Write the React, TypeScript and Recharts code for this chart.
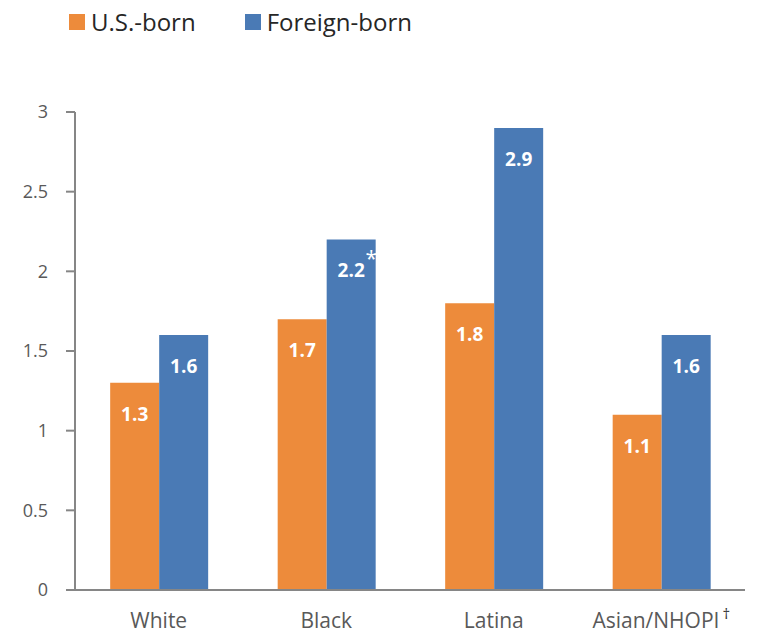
import React from "react";
import { Bar, BarChart, LabelList, XAxis, YAxis } from "recharts";

const groups = ["White", "Black", "Latina", "Asian/NHOPI"];
const usBorn = [1.3, 1.7, 1.8, 1.1];
const foreignBorn = [1.6, 2.2, 2.9, 1.6];
const yTicks = [0, 0.5, 1, 1.5, 2, 2.5, 3];
const footnotes: Record<string, string> = { "Asian/NHOPI": "\u2020" };
const starred = ["Black"];

const data = groups.map((g, i) => ({
  group: g,
  us: usBorn[i],
  foreign: foreignBorn[i],
}));

const font = "'Open Sans', 'DejaVu Sans', sans-serif";

function CategoryTick(props: any) {
  const { x, y, payload } = props;
  const mark = footnotes[payload.value];
  return (
    <text x={x} y={y + 30} textAnchor="middle" fill="#595959" fontSize={21} fontFamily={font}>
      {payload.value}
      {mark && (
        <tspan dx={3} dy={-9} fontSize={15} fill="#333">
          {mark}
        </tspan>
      )}
    </text>
  );
}

function makeValueLabel(withStar: boolean) {
  return (props: any) => {
    const { x, y, width, value, index } = props;
    const cx = x + width / 2;
    const star = withStar && starred.includes(groups[index]);
    return (
      <g>
        <text
          x={cx}
          y={y + 38}
          textAnchor="middle"
          fill="#fff"
          fontSize={19}
          fontWeight="bold"
          fontFamily={font}
        >
          {value.toFixed(1)}
        </text>
        {star && (
          <text x={cx + 20} y={y + 27} textAnchor="middle" fill="#fff" fontSize={21} fontFamily={font}>
            *
          </text>
        )}
      </g>
    );
  };
}

const legendItems = [
  { label: "U.S.-born", color: "#ed8b3b" },
  { label: "Foreign-born", color: "#4a7ab5" },
];

export default function App() {
  return (
    <div style={{ position: "absolute", left: 0, top: 0, width: 762, height: 635, background: "#fff" }}>
      <div
        style={{
          position: "absolute",
          left: 69,
          top: 5,
          display: "flex",
          fontFamily: font,
          fontSize: 24,
          color: "#262626",
          zIndex: 1,
        }}
      >
        {legendItems.map((it) => (
          <div key={it.label} style={{ display: "flex", alignItems: "center", marginRight: 49 }}>
            <span
              style={{ width: 16, height: 16, background: it.color, display: "inline-block", marginRight: 6 }}
            />
            {it.label}
          </div>
        ))}
      </div>
      <BarChart
        width={762}
        height={635}
        data={data}
        margin={{ top: 112, right: 17, bottom: 0, left: 5 }}
        barGap={0}
        barCategoryGap="21%"
      >
        <YAxis
          width={70}
          domain={[0, 3]}
          ticks={yTicks}
          tickSize={9}
          tickLine={{ stroke: "#868686", strokeWidth: 2 }}
          axisLine={{ stroke: "#868686", strokeWidth: 2 }}
          tick={{ fill: "#595959", fontSize: 18, fontFamily: font }}
          tickMargin={18}
        />
        <XAxis
          dataKey="group"
          height={45}
          tickLine={false}
          axisLine={{ stroke: "#868686", strokeWidth: 2 }}
          tick={<CategoryTick />}
          interval={0}
        />
        <Bar dataKey="us" name="U.S.-born" fill="#ed8b3b" isAnimationActive={false}>
          <LabelList dataKey="us" content={makeValueLabel(false)} />
        </Bar>
        <Bar dataKey="foreign" name="Foreign-born" fill="#4a7ab5" isAnimationActive={false}>
          <LabelList dataKey="foreign" content={makeValueLabel(true)} />
        </Bar>
      </BarChart>
    </div>
  );
}
